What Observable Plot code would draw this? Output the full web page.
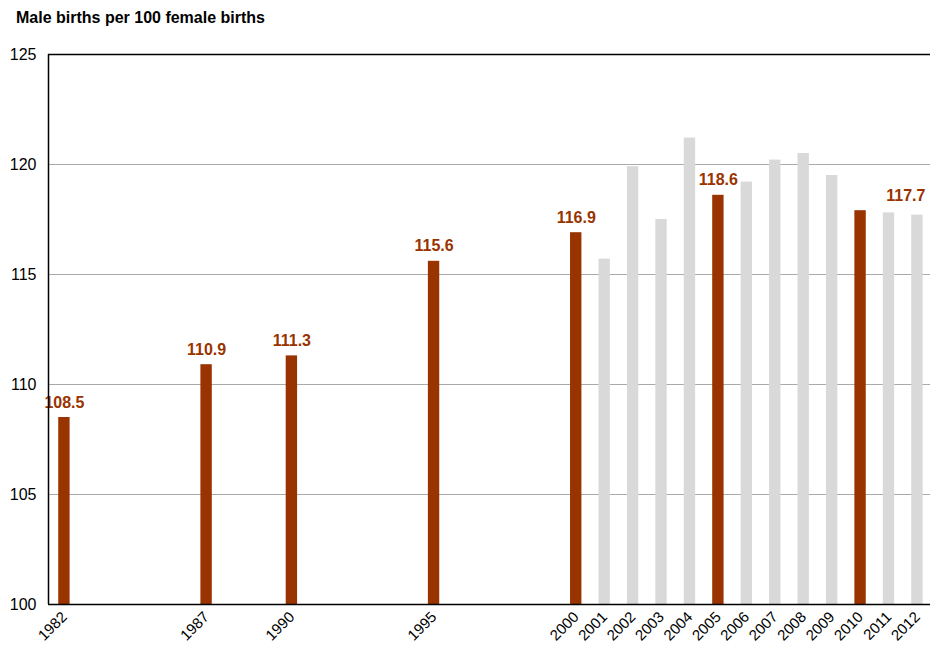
<!DOCTYPE html>
<html>
<head>
<meta charset="utf-8">
<script src="https://cdn.jsdelivr.net/npm/d3@7"></script>
<script src="https://cdn.jsdelivr.net/npm/@observablehq/plot@0.6"></script>
<style>
  html, body { margin: 0; padding: 0; background: #fff; }
  body { width: 930px; height: 648px; overflow: hidden; font-family: "Liberation Sans", Arial, sans-serif; }
  #title { height: 36px; box-sizing: border-box; padding: 9px 0 0 16px; font-size: 16px; font-weight: bold; color: #000; line-height: 18px; }
  svg { display: block; }
</style>
</head>
<body>
<div id="title">Male births per 100 female births</div>
<div id="chart"></div>
<script>
// Data
const years = [1982, 1987, 1990, 1995, 2000, 2001, 2002, 2003, 2004, 2005, 2006, 2007, 2008, 2009, 2010, 2011, 2012];
const ratios = [108.5, 110.9, 111.3, 115.6, 116.9, 115.7, 119.9, 117.5, 121.2, 118.6, 119.2, 120.2, 120.5, 119.5, 117.9, 117.8, 117.7];
const censusYears = [1982, 1987, 1990, 1995, 2000, 2005, 2010];
const labelYears = [1982, 1987, 1990, 1995, 2000, 2005];
const labelValues = [108.5, 110.9, 111.3, 115.6, 116.9, 118.6];
const lastLabelYear = [2012];
const lastLabelValue = [117.7];
const yTicks = [100, 105, 110, 115, 120, 125];
const gridTicks = [105, 110, 115, 120];

const xDomain = [1981.44, 2012.46];
const yDomain = [100, 125];
const barHalf = 0.2;

const bars = years.map((year, i) => ({year, value: ratios[i], census: censusYears.includes(year)}));
const labels = labelYears.map((year, i) => ({year, value: labelValues[i]}));
const lastLabel = lastLabelYear.map((year, i) => ({year, value: lastLabelValue[i]}));

const red = "#993300";
const gray = "#d9d9d9";

const chart = Plot.plot({
  width: 930,
  height: 612,
  marginLeft: 48,
  marginRight: 0,
  marginTop: 18,
  marginBottom: 44,
  style: {fontFamily: "Liberation Sans, Arial, sans-serif", background: "#fff", color: "#000"},
  x: {type: "linear", domain: xDomain},
  y: {domain: yDomain},
  marks: [
    Plot.ruleY(gridTicks, {stroke: "#aaaaaa", strokeWidth: 1}),
    Plot.rectY(bars, {
      x1: d => d.year - barHalf,
      x2: d => d.year + barHalf,
      y1: yDomain[0],
      y2: "value",
      fill: d => d.census ? red : gray
    }),
    Plot.text(labels, {
      x: "year", y: "value",
      text: d => d.value.toFixed(1),
      dy: -15,
      fill: red, fontWeight: "bold", fontSize: 16
    }),
    Plot.text(lastLabel, {
      x: "year", y: "value",
      text: d => d.value.toFixed(1),
      dy: -19, dx: 8, textAnchor: "end",
      fill: red, fontWeight: "bold", fontSize: 16
    }),
    Plot.ruleY([yDomain[0]], {stroke: "#000", strokeWidth: 1.5}),
    Plot.ruleY([yDomain[1]], {stroke: "#000", strokeWidth: 1.5}),
    Plot.ruleX([xDomain[0]], {stroke: "#000", strokeWidth: 1.5}),
    Plot.axisY({ticks: yTicks, tickSize: 0, tickPadding: 12, fontSize: 16, label: null}),
    Plot.axisX({ticks: years, tickFormat: d => String(d), tickRotate: -45, tickSize: 0, tickPadding: 10, fontSize: 15, label: null})
  ]
});
document.getElementById("chart").appendChild(chart);
</script>
</body>
</html>
